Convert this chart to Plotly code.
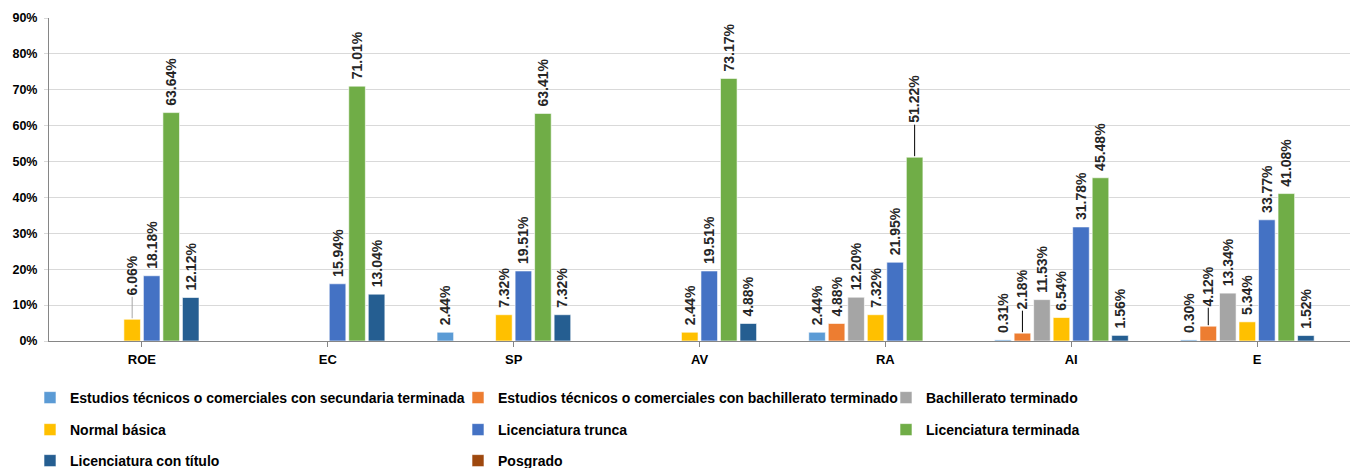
import plotly.graph_objects as go

categories = ["ROE", "EC", "SP", "AV", "RA", "AI", "E"]

series_names = [
    "Estudios técnicos o comerciales con secundaria terminada",
    "Estudios técnicos o comerciales con bachillerato terminado",
    "Bachillerato terminado",
    "Normal básica",
    "Licenciatura trunca",
    "Licenciatura terminada",
    "Licenciatura con título",
    "Posgrado",
]

sec_tecnico = [None, None, 2.44, None, 2.44, 0.31, 0.30]
bach_tecnico = [None, None, None, None, 4.88, 2.18, 4.12]
bachillerato = [None, None, None, None, 12.20, 11.53, 13.34]
normal_basica = [6.06, None, 7.32, 2.44, 7.32, 6.54, 5.34]
lic_trunca = [18.18, 15.94, 19.51, 19.51, 21.95, 31.78, 33.77]
lic_terminada = [63.64, 71.01, 63.41, 73.17, 51.22, 45.48, 41.08]
lic_titulo = [12.12, 13.04, 7.32, 4.88, None, 1.56, 1.52]
posgrado = [None, None, None, None, None, None, None]

series_values = [sec_tecnico, bach_tecnico, bachillerato, normal_basica,
                 lic_trunca, lic_terminada, lic_titulo, posgrado]

colors = ["#5B9BD5", "#ED7D31", "#A5A5A5", "#FFC000",
          "#4472C4", "#70AD47", "#255E91", "#9E480E"]

# labels drawn with a leader line: (category, series index) -> (pixel offset, line colour)
leader_labels = {
    ("ROE", 3): (-44, "#A6A6A6"),
    ("RA", 5): (-58, "#000000"),
    ("AI", 1): (-44, "#000000"),
    ("E", 1): (-40, "#000000"),
}

FONT = "Arial, Liberation Sans, sans-serif"
BARGAP = 0.16
NS = len(series_names)

legend_of = ["legend", "legend", "legend", "legend2", "legend2", "legend2", "legend3", "legend3"]

fig = go.Figure()
annotations = []
for k, (name, vals, col) in enumerate(zip(series_names, series_values, colors)):
    ys = [None if v is None else v / 100 for v in vals]
    texts = []
    for c, v in zip(categories, vals):
        if v is None or (c, k) in leader_labels:
            texts.append("")
        else:
            texts.append("\u00a0" + f"{v:.2f}%")
    for i, (c, v) in enumerate(zip(categories, vals)):
        if v is not None and (c, k) in leader_labels:
            off, lc = leader_labels[(c, k)]
            xpos = i + (k - (NS - 1) / 2) * (1 - BARGAP) / NS
            annotations.append(dict(
                x=xpos, y=v / 100, xref="x", yref="y",
                text=f"{v:.2f}%", textangle=-90,
                showarrow=True, arrowhead=0, arrowwidth=1, arrowcolor=lc,
                ax=0, ay=off, standoff=1,
                font=dict(family=FONT, size=14, color="#262626", weight="bold"),
            ))
    fig.add_trace(go.Bar(
        name=name, x=categories, y=ys,
        marker=dict(color=col, line=dict(color="#FFFFFF", width=0.6)),
        text=texts, textposition="outside", textangle=-90,
        textfont=dict(family=FONT, size=14, color="#262626", weight="bold"),
        constraintext="none", cliponaxis=False,
        legend=legend_of[k],
        hoverinfo="skip",
    ))

legend_common = dict(
    orientation="h", xanchor="left", yanchor="middle",
    xref="container", yref="container",
    entrywidth=383, entrywidthmode="pixels", itemwidth=30,
    font=dict(family=FONT, size=14, color="#000000", weight="bold"),
    bgcolor="rgba(0,0,0,0)", traceorder="normal",
    itemclick=False, itemdoubleclick=False,
)

LX = 30 / 1353

fig.update_layout(
    width=1353, height=468,
    margin=dict(l=49, r=3, t=18, b=127, autoexpand=False),
    paper_bgcolor="#FFFFFF", plot_bgcolor="#FFFFFF",
    barmode="group", bargap=BARGAP, bargroupgap=0.15,
    font=dict(family=FONT, color="#000000"),
    annotations=annotations,
    legend=dict(legend_common, x=LX, y=(468 - 398) / 468),
    legend2=dict(legend_common, x=LX, y=(468 - 430) / 468),
    legend3=dict(legend_common, x=LX, y=(468 - 461) / 468),
    xaxis=dict(
        type="category", showgrid=False,
        showline=True, linecolor="#868686", linewidth=1,
        ticks="outside", ticklen=5, tickcolor="#868686",
        ticklabelstandoff=1,
        tickfont=dict(family=FONT, size=13, color="#000000", weight="bold"),
        fixedrange=True,
    ),
    yaxis=dict(
        range=[0, 0.9], dtick=0.1, tickformat=".0%",
        showgrid=True, gridcolor="#D9D9D9", gridwidth=1,
        showline=True, linecolor="#868686", linewidth=1,
        ticks="outside", ticklen=4, tickcolor="#D9D9D9",
        ticklabelstandoff=4,
        zeroline=False,
        tickfont=dict(family=FONT, size=12.5, color="#000000", weight="bold"),
        fixedrange=True,
    ),
)

fig.write_html(
    "out.html",
    config={"displayModeBar": False},
    post_script="document.body.style.margin='0px';document.body.style.overflow='hidden';",
)
